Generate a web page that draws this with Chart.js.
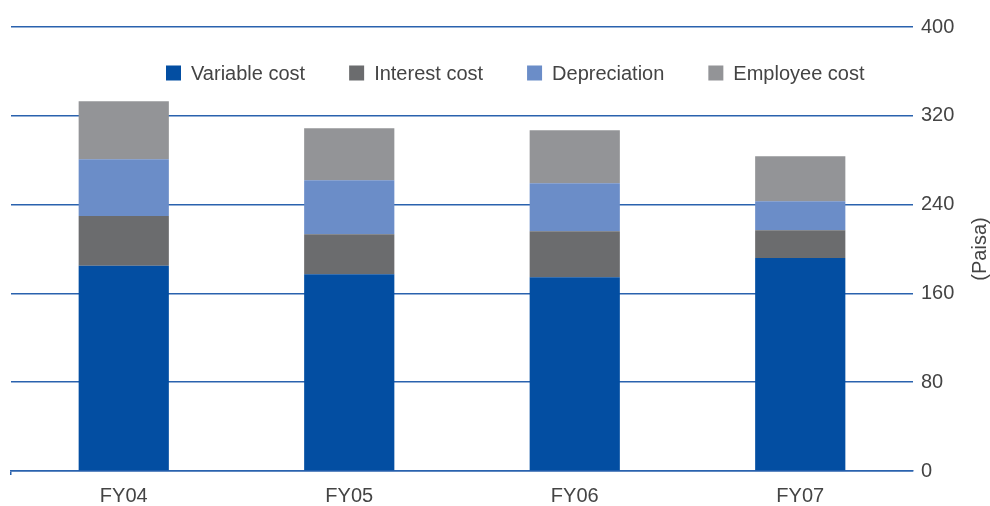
<!DOCTYPE html>
<html>
<head>
<meta charset="utf-8">
<script src="https://cdn.jsdelivr.net/npm/chart.js@4/dist/chart.umd.min.js"></script>
<style>
  html, body { margin: 0; padding: 0; background: #fff; }
  #wrap { width: 990px; height: 506px; }
</style>
</head>
<body>
<div id="wrap"><canvas id="costChart"></canvas></div>
<script>
// cost per unit, stacked by component (paisa)
const years = ['FY04', 'FY05', 'FY06', 'FY07'];
const variableCost = [184.8, 177.3, 174.6, 191.8];
const interestCost = [45.0, 36.1, 41.5, 25.2];
const depreciation = [51.1, 48.6, 43.2, 26.1];
const employeeCost = [52.2, 46.8, 47.7, 40.5];
const yTicks = [0, 80, 160, 240, 320, 400];

const gridBlue = '#2a62ae';
const textGrey = '#444444';
const fontFamily = '"Liberation Sans", Arial, Helvetica, sans-serif';

// legend sits inside the plot, under the top gridline
const innerLegend = {
    id: 'innerLegend',
    afterDraw(chart) {
        const ctx = chart.ctx;
        ctx.save();
        ctx.font = '20px ' + fontFamily;
        ctx.textBaseline = 'middle';
        let x = 166;
        const y = 73;
        chart.data.datasets.forEach(ds => {
            ctx.fillStyle = ds.backgroundColor;
            ctx.fillRect(x, y - 7.5, 15, 15);
            ctx.fillStyle = textGrey;
            ctx.fillText(ds.label, x + 25, y + 1);
            x += 25 + ctx.measureText(ds.label).width + 44;
        });

        // unit title, reading bottom to top
        const area = chart.chartArea;
        ctx.translate(980, (area.top + area.bottom) / 2);
        ctx.rotate(-Math.PI / 2);
        ctx.textAlign = 'center';
        ctx.fillText('(Paisa)', 0, 0);
        ctx.restore();
    }
};

const data = {
    labels: years,
    datasets: [
        { label: 'Variable cost', data: variableCost, backgroundColor: '#034ea2' },
        { label: 'Interest cost', data: interestCost, backgroundColor: '#6b6c6e' },
        { label: 'Depreciation', data: depreciation, backgroundColor: '#6b8dc8' },
        { label: 'Employee cost', data: employeeCost, backgroundColor: '#939497' }
    ]
};

const config = {
    type: 'bar',
    data: data,
    options: {
        responsive: true,
        maintainAspectRatio: false,
        animation: false,
        barPercentage: 0.4,
        categoryPercentage: 1,
        layout: { padding: { top: 27, left: 11, right: 0, bottom: 0 } },
        plugins: {
            legend: { display: false },
            tooltip: { enabled: false }
        },
        scales: {
            x: {
                stacked: true,
                afterFit: scale => { scale.height = 35; },
                grid: {
                    drawOnChartArea: false,
                    tickLength: 4,
                    lineWidth: 1.5,
                    color: c => (c.index === 0 || c.index === years.length) ? gridBlue : 'rgba(0,0,0,0)'
                },
                border: { color: gridBlue, width: 1.5 },
                ticks: { color: textGrey, font: { family: fontFamily, size: 20 }, padding: 9 }
            },
            y: {
                stacked: true,
                position: 'right',
                min: 0,
                max: 400,
                afterBuildTicks: scale => { scale.ticks = yTicks.map(v => ({ value: v })); },
                afterFit: scale => { scale.width = 77; },
                grid: { color: gridBlue, lineWidth: 1.5, drawTicks: false },
                border: { display: false },
                ticks: { color: textGrey, font: { family: fontFamily, size: 20 }, padding: 8 }
            }
        }
    },
    plugins: [innerLegend]
};

const costChart = new Chart(document.getElementById('costChart'), config);
</script>
</body>
</html>
